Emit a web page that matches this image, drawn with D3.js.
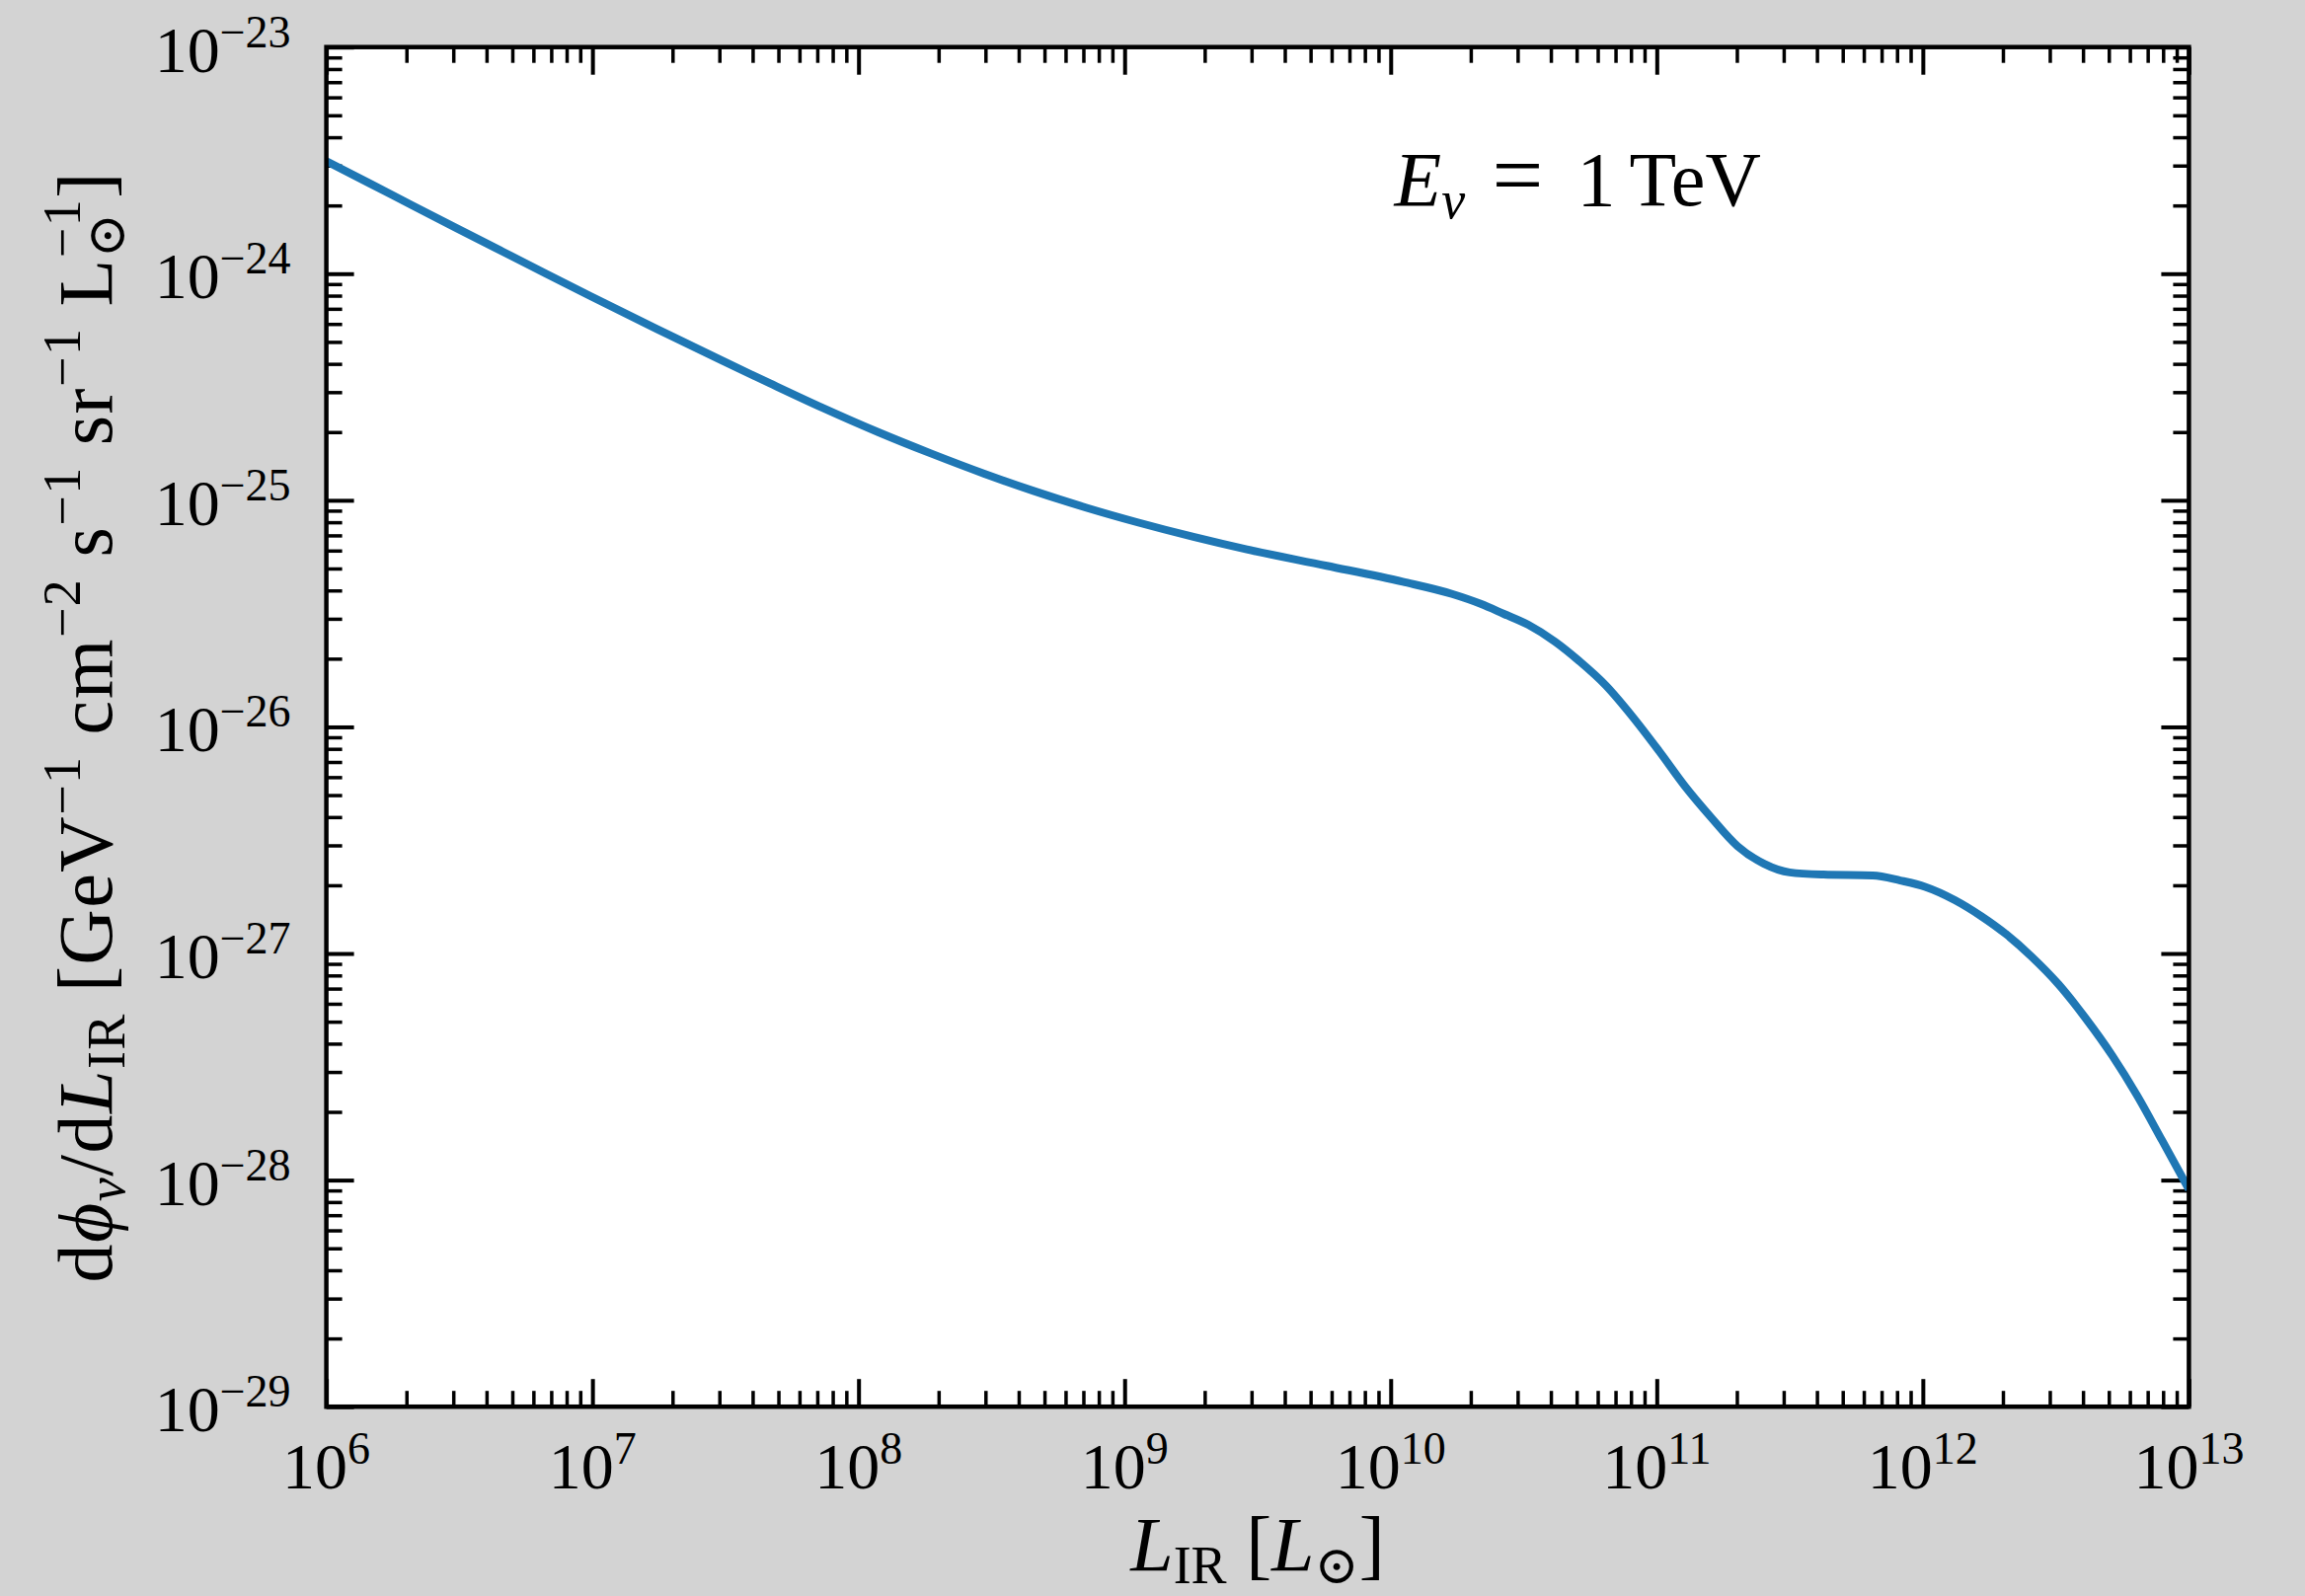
<!DOCTYPE html>
<html>
<head>
<meta charset="utf-8">
<script src="https://cdn.jsdelivr.net/npm/d3@7"></script>
<style>
  body { margin: 0; background: #d3d3d3; }
  text { font-family: "Liberation Serif", "DejaVu Serif", serif; fill: #000; }
</style>
</head>
<body>
<div id="chart"></div>
<script>
// values
const lum = [1.0e6, 1.76e6, 3.11e6, 5.54e6, 9.83e6, 1.74e7, 3.09e7, 4.65e7, 7.32e7,
  1.19e8, 1.87e8, 2.97e8, 4.55e8, 7.15e8, 1.12e9, 1.83e9, 2.88e9, 5.75e9, 1.11e10, 1.70e10,
  2.18e10, 2.65e10, 3.29e10, 4.14e10, 5.12e10, 6.45e10, 8.06e10, 1.015e11, 1.28e11,
  1.60e11, 2.01e11, 2.53e11, 3.16e11, 4.23e11, 6.48e11, 8.23e11, 1.02e12, 1.32e12,
  1.66e12, 2.05e12, 2.56e12, 3.23e12, 4.10e12, 5.17e12, 6.39e12, 7.92e12, 1.0e13];
const flux = [3.14e-24, 2.23e-24, 1.58e-24, 1.12e-24, 7.96e-25, 5.71e-25, 4.12e-25, 3.28e-25, 2.56e-25,
  1.995e-25, 1.61e-25, 1.31e-25, 1.10e-25, 9.29e-26, 7.99e-26, 6.88e-26, 6.07e-26, 5.14e-26, 4.37e-26, 3.86e-26,
  3.49e-26, 3.16e-26, 2.82e-26, 2.38e-26, 1.95e-26, 1.52e-26, 1.12e-26, 7.89e-27, 5.45e-27,
  3.99e-27, 2.98e-27, 2.49e-27, 2.28e-27, 2.23e-27, 2.21e-27, 2.10e-27, 1.97e-27, 1.72e-27,
  1.46e-27, 1.22e-27, 9.70e-28, 7.33e-28, 5.16e-28, 3.52e-28, 2.36e-28, 1.50e-28, 9.10e-29];
const xExps = [6, 7, 8, 9, 10, 11, 12, 13];
const yExps = [-29, -28, -27, -26, -25, -24, -23];

var W = 2335, H = 1617;
var margin = {top: 47.7, right: W - 2217.4, bottom: H - 1425.2, left: 330.6},
    width = W - margin.left - margin.right,
    height = H - margin.top - margin.bottom;

var svg = d3.select("#chart").append("svg")
  .attr("width", W).attr("height", H).style("display", "block");
svg.append("rect").attr("width", W).attr("height", H).attr("fill", "#d3d3d3");

var g = svg.append("g").attr("transform", "translate(" + margin.left + "," + margin.top + ")");
g.append("rect").attr("width", width).attr("height", height).attr("fill", "#fff");

var x = d3.scaleLog().domain([1e6, 1e13]).range([0, width]);
var y = d3.scaleLog().domain([1e-29, 1e-23]).range([height, 0]);

var xMajor = xExps.map(e => Math.pow(10, e));
var yMajor = yExps.map(e => Math.pow(10, e));
function minors(exps) {
  var out = [];
  for (var i = 0; i < exps.length - 1; i++)
    for (var k = 2; k < 10; k++) out.push(k * Math.pow(10, exps[i]));
  return out;
}

// inward ticks on all four sides
function addAxis(axisFn, scale, values, size, transform, sw) {
  g.append("g").attr("transform", transform)
    .call(axisFn(scale).tickValues(values).tickSize(size).tickFormat(""))
    .call(a => a.select(".domain").remove())
    .selectAll("line").attr("stroke", "#000").attr("stroke-width", sw);
}
[[d3.axisBottom, "translate(0," + height + ")"], [d3.axisTop, "translate(0,0)"]].forEach(function(a) {
  addAxis(a[0], x, minors(xExps), -16, a[1], 3.5);
  addAxis(a[0], x, xMajor, -28, a[1], 4);
});
[[d3.axisLeft, "translate(0,0)"], [d3.axisRight, "translate(" + width + ",0)"]].forEach(function(a) {
  addAxis(a[0], y, minors(yExps), -16, a[1], 3.5);
  addAxis(a[0], y, yMajor, -28, a[1], 4);
});

// curve
g.append("clipPath").attr("id", "clip").append("rect").attr("width", width).attr("height", height);
var line = d3.line().x(d => x(d[0])).y(d => y(d[1])).curve(d3.curveMonotoneX);
g.append("path")
  .datum(d3.zip(lum, flux))
  .attr("clip-path", "url(#clip)")
  .attr("d", line)
  .attr("fill", "none")
  .attr("stroke", "#1f77b4")
  .attr("stroke-width", 8)
  .attr("stroke-linejoin", "round");

// frame
g.append("rect").attr("width", width).attr("height", height)
  .attr("fill", "none").attr("stroke", "#000").attr("stroke-width", 4.5);

// rich text helper: sub/superscripts via dy offsets
function rich(sel, parts) {
  var cur = 0;
  parts.forEach(function(p) {
    var target = p.dy || 0;
    var ts = sel.append("tspan").text(p.t).attr("dy", target - cur);
    cur = target;
    if (p.i) ts.style("font-style", "italic");
    if (p.fs) ts.attr("font-size", p.fs);
    if (p.dx) ts.attr("dx", p.dx);
    if (p.x != null) ts.attr("x", p.x);
  });
}

// tick labels
var TF = 66, TS = 46, TUP = -25;
g.selectAll(".xlab").data(xExps).enter().append("text")
  .attr("x", d => x(Math.pow(10, d)))
  .attr("y", height + 83)
  .attr("text-anchor", "middle")
  .attr("font-size", TF)
  .each(function(d) { rich(d3.select(this), [{t: "10"}, {t: String(d), fs: TS, dy: TUP}]); });

g.selectAll(".ylab").data(yExps).enter().append("text")
  .attr("x", -36)
  .attr("y", d => y(Math.pow(10, d)) + 25)
  .attr("text-anchor", "end")
  .attr("font-size", TF)
  .each(function(d) { rich(d3.select(this), [{t: "10"}, {t: "\u2212" + Math.abs(d), fs: TS, dy: TUP}]); });

// axis labels
var LF = 78, SF = 54, SUB = 13, SUP = -32;
g.append("text")
  .attr("x", width / 2).attr("y", height + 166)
  .attr("text-anchor", "middle").attr("font-size", LF)
  .call(s => rich(s, [{t: "L", i: true}, {t: "IR", fs: SF, dy: SUB}, {t: " [", dy: 0},
    {t: "L", i: true}, {t: "\u2299", fs: SF, dy: SUB}, {t: "]", dy: 0}]));

// width of the sun symbol, so the -1 can sit above it
var tmp = svg.append("text").attr("font-size", SF).style("letter-spacing", "1.5px").text("\u2299");
var sunW = tmp.node().getComputedTextLength();
tmp.remove();

g.append("text")
  .attr("transform", "translate(-218," + (height / 2) + ")rotate(-90)")
  .attr("text-anchor", "middle").attr("font-size", LF)
  .style("letter-spacing", "1.5px")
  .call(s => rich(s, [{t: "d"}, {t: "\u03d5", i: true}, {t: "\u03bd", i: true, fs: SF, dy: SUB},
    {t: "/d"}, {t: "L", i: true}, {t: "IR", fs: SF, dy: SUB}, {t: " [GeV"},
    {t: "\u22121", fs: SF, dy: SUP}, {t: " cm"}, {t: "\u22122", fs: SF, dy: SUP},
    {t: " s"}, {t: "\u22121", fs: SF, dy: SUP}, {t: " sr"}, {t: "\u22121", fs: SF, dy: SUP},
    {t: " L"}, {t: "\u2299", fs: SF, dy: SUB}, {t: "\u22121", fs: SF, dy: SUP, dx: -sunW},
    {t: "]"}]));

// annotation
g.append("text")
  .attr("x", 1082).attr("y", 160)
  .attr("font-size", LF)
  .call(s => rich(s, [{t: "E", i: true}, {t: "\u03bd", i: true, fs: SF, dy: SUB},
    {t: "=", x: 1181, fs: 92}, {t: "1", x: 1267}, {t: "TeV", x: 1320}]));
</script>
</body>
</html>
